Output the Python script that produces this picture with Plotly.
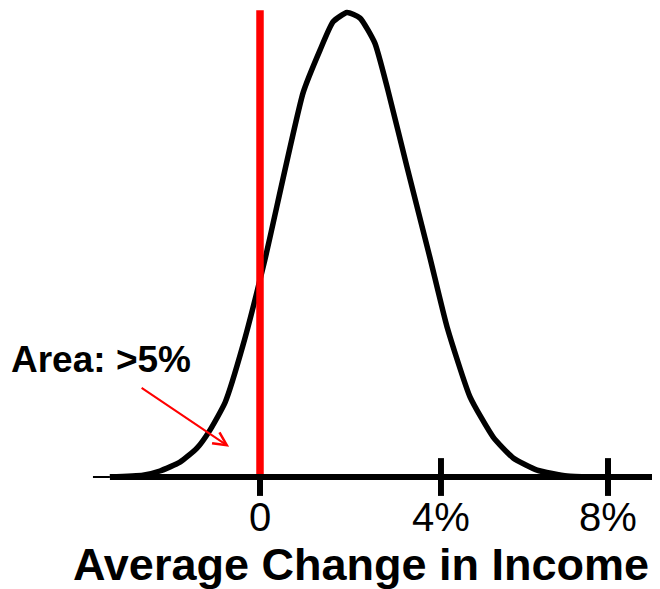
import plotly.graph_objects as go

# Density curve (relative height, peak = 1) vs average change in income (%)
curve_x = [-3.45, -2.69, -2.30, -1.84, -1.45, -1.15, -0.80, -0.39, 0.11, 0.99, 1.38, 1.68, 2.00,
           2.30, 2.64, 2.94, 3.38, 3.91, 4.30, 4.83, 5.36, 5.82, 6.37, 7.06, 7.59]
curve_y = [0.0, 0.004, 0.013, 0.032, 0.062, 0.101, 0.161, 0.284, 0.467, 0.827, 0.919, 0.980, 1.0,
           0.988, 0.934, 0.833, 0.667, 0.471, 0.323, 0.172, 0.086, 0.041, 0.015, 0.002, 0.0]

tick_vals = [0, 4.16, 8]
tick_text = ["0", "4%", "8%"]

threshold_x = [0, 0]
threshold_y = [0, 1.005]

axis_x = [-3.45, 9.3]
axis_y = [0, 0]
axis_stub_x = [-3.84, -3.45]

arrow_tip = (-0.71, 0.065)

X_RANGE = [-5.793, 9.379]
Y_RANGE = [-0.2583, 1.0097]

fig = go.Figure()

fig.add_trace(go.Scatter(x=curve_x, y=curve_y, mode="lines",
                         line=dict(color="black", width=5.5, shape="spline", smoothing=0.5),
                         hoverinfo="skip", showlegend=False))
fig.add_trace(go.Scatter(x=tick_vals, y=[0] * len(tick_vals), mode="markers",
                         marker=dict(symbol="line-ns", size=27,
                                     line=dict(color="black", width=6)),
                         hoverinfo="skip", showlegend=False))
fig.add_trace(go.Scatter(x=threshold_x, y=threshold_y, mode="lines",
                         line=dict(color="#FF0000", width=7.5),
                         hoverinfo="skip", showlegend=False))
fig.add_trace(go.Scatter(x=axis_stub_x, y=axis_y, mode="lines",
                         line=dict(color="black", width=2),
                         hoverinfo="skip", showlegend=False))
fig.add_trace(go.Scatter(x=axis_x, y=axis_y, mode="lines",
                         line=dict(color="black", width=6),
                         hoverinfo="skip", showlegend=False))

fig.add_annotation(x=arrow_tip[0], y=arrow_tip[1], xref="x", yref="y",
                   ax=-89, ay=-60, text="", showarrow=True,
                   arrowhead=5, arrowsize=1.3, arrowwidth=2, arrowcolor="#FF0000")
fig.add_annotation(x=1 / 660, y=0.4024, xref="paper", yref="paper",
                   xanchor="left", yanchor="middle", showarrow=False,
                   text="<b>Area: >5%</b>",
                   font=dict(family="Liberation Sans", size=37, color="black"))
fig.add_annotation(x=63 / 660, y=0.056, xref="paper", yref="paper",
                   xanchor="left", yanchor="middle", showarrow=False,
                   text="<b>Average Change in Income</b>",
                   font=dict(family="Liberation Sans", size=45, color="black"))

fig.update_layout(
    width=660, height=589, autosize=False,
    margin=dict(l=0, r=0, t=0, b=0),
    paper_bgcolor="white", plot_bgcolor="white",
    xaxis=dict(range=X_RANGE, showgrid=False, zeroline=False, showline=False,
               ticks="", tickvals=tick_vals, ticktext=tick_text,
               tickfont=dict(family="Liberation Sans", size=40, color="black"),
               anchor="free", position=120 / 589, ticklabelstandoff=13),
    yaxis=dict(range=Y_RANGE, visible=False, showgrid=False, zeroline=False),
)

fig.write_html("out.html")
